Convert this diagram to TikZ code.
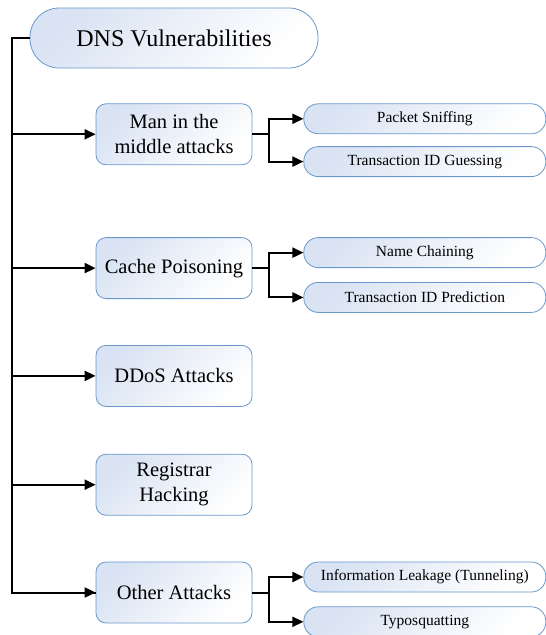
\documentclass[tikz,border=0pt]{standalone}
\usepackage{fontspec}
\setmainfont{Liberation Serif}
\usetikzlibrary{arrows.meta}
\usetikzlibrary{positioning}
\usetikzlibrary{calc}

\definecolor{boxline}{HTML}{6A98CC}
\definecolor{boxfill}{HTML}{D9E3F3}

\tikzset{
  box/.style={draw=boxline, line width=0.8pt, top color=boxfill, bottom color=white,
              shading angle=45, align=center, inner sep=0pt},
  rootbox/.style={box, minimum width=288pt, minimum height=60pt, rounded corners=29pt,
              font=\fontsize{24}{28}\selectfont},
  attackbox/.style={box, minimum width=156pt, minimum height=61pt, rounded corners=10pt,
              font=\fontsize{20.5}{25}\selectfont},
  subbox/.style={box, minimum width=242pt, minimum height=30pt, rounded corners=14.5pt,
              font=\fontsize{15.5}{18}\selectfont},
  link/.style={line width=2pt, -{Triangle[length=11pt,width=10pt]}}
}

\begin{document}
\begin{tikzpicture}[x=1pt,y=-1pt]
        \useasboundingbox (0,0) rectangle (546,635);

        \node [rootbox] (root) at (174,38) {DNS Vulnerabilities};

        \begin{scope}
            \node [attackbox] (mitm)     [below = 35pt of root]  {Man in the\\middle attacks};
            \node [attackbox] (cache)    [below = 72pt of mitm]  {Cache Poisoning};
            \node [attackbox] (ddos)     [below = 46pt of cache] {DDoS Attacks};
            \node [attackbox] (registrar) [below = 47pt of ddos] {Registrar\\Hacking};
            \node [attackbox] (other)    [below = 46pt of registrar] {Other Attacks};
        \end{scope}

        \begin{scope}
            \node [subbox] (sniff)   [right = 51pt of mitm.north east, anchor=north west]  {Packet Sniffing};
            \node [subbox] (guess)   [below = 12pt of sniff]                               {Transaction ID Guessing};
            \node [subbox] (chain)   [right = 51pt of cache.north east, anchor=north west] {Name Chaining};
            \node [subbox] (predict) [below = 14pt of chain]                               {Transaction ID Prediction};
            \node [subbox] (leak)    [right = 51pt of other.north east, anchor=north west] {Information Leakage (Tunneling)};
            \node [subbox] (typo)    [below = 14pt of leak]                                {Typosquatting};
        \end{scope}

        \coordinate (trunk) at ([xshift=-18pt] root.west);
        \draw [line width=2pt] (root.west) -- (trunk) |- (other.west);

        \draw [link] (trunk) |- (mitm.west);
        \draw [link] (trunk) |- (cache.west);
        \draw [link] (trunk) |- (ddos.west);
        \draw [link] (trunk) |- (registrar.west);
        \draw [link] (trunk) |- (other.west);

        \draw [link] (mitm.east) -- ++(17pt,0) |- (sniff.west);
        \draw [link] (mitm.east) -- ++(17pt,0) |- (guess.west);
        \draw [link] (cache.east) -- ++(17pt,0) |- (chain.west);
        \draw [link] (cache.east) -- ++(17pt,0) |- (predict.west);
        \draw [link] (other.east) -- ++(17pt,0) |- (leak.west);
        \draw [link] (other.east) -- ++(17pt,0) |- (typo.west);
\end{tikzpicture}
\end{document}
